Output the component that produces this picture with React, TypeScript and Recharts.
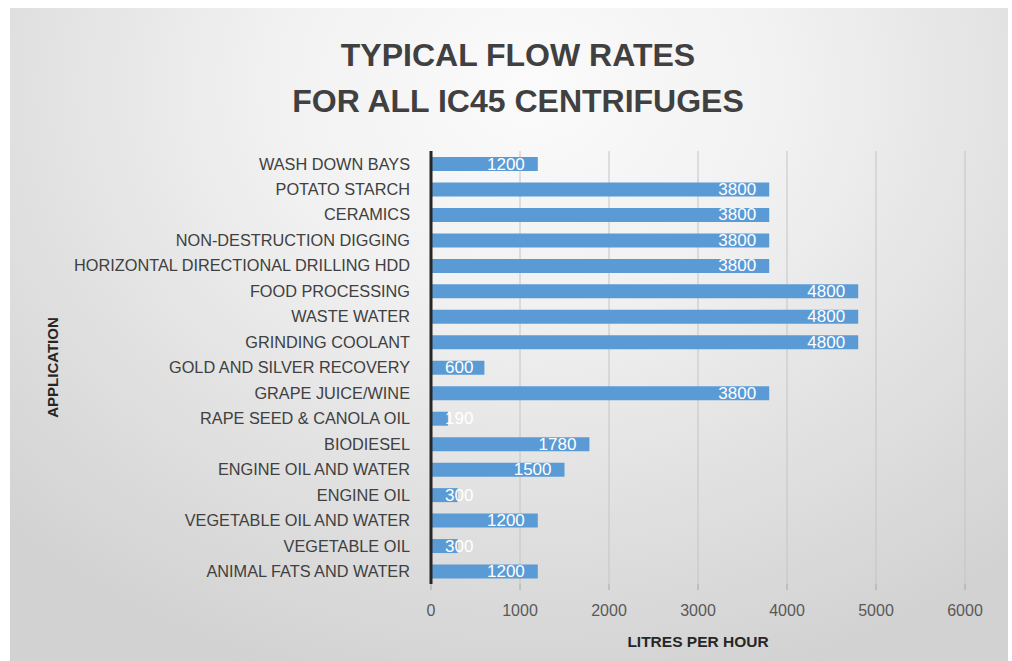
import React from "react";
import { BarChart, Bar, XAxis, YAxis, CartesianGrid, LabelList, Label } from "recharts";

const categories = [
  "WASH DOWN BAYS",
  "POTATO STARCH",
  "CERAMICS",
  "NON-DESTRUCTION DIGGING",
  "HORIZONTAL DIRECTIONAL DRILLING HDD",
  "FOOD PROCESSING",
  "WASTE WATER",
  "GRINDING COOLANT",
  "GOLD AND SILVER RECOVERY",
  "GRAPE JUICE/WINE",
  "RAPE SEED & CANOLA OIL",
  "BIODIESEL",
  "ENGINE OIL AND WATER",
  "ENGINE OIL",
  "VEGETABLE OIL AND WATER",
  "VEGETABLE OIL",
  "ANIMAL FATS AND WATER",
];
const flowRates = [1200, 3800, 3800, 3800, 3800, 4800, 4800, 4800, 600, 3800, 190, 1780, 1500, 300, 1200, 300, 1200];
const xTicks = [0, 1000, 2000, 3000, 4000, 5000, 6000];
const titleLines = ["TYPICAL FLOW RATES", "FOR ALL IC45 CENTRIFUGES"];

const data = categories.map((c, i) => ({ name: c, value: flowRates[i] }));

const FONT = "'Liberation Sans', Arial, sans-serif";

const BarValueLabel = (props: any) => {
  const { x, y, width, height, value } = props;
  const small = width < 60;
  const tx = small ? x + 14 : x + width - 13;
  return (
    <text
      x={tx}
      y={y + height / 2}
      fill="#ffffff"
      fontSize={17}
      fontFamily={FONT}
      textAnchor={small ? "start" : "end"}
      dominantBaseline="central"
    >
      {value}
    </text>
  );
};

export default function App() {
  return (
    <div style={{ position: "absolute", left: 0, top: 0, width: 1012, height: 661, background: "#ffffff", overflow: "hidden" }}>
      <div
        style={{
          position: "absolute",
          left: 10,
          top: 8,
          width: 998,
          height: 653,
          background:
            "radial-gradient(ellipse 75% 95% at 52% 12%, #fbfbfb 0%, #f1f1f1 35%, #e2e2e2 65%, #d2d2d2 100%)",
        }}
      />
      <div
        style={{
          position: "absolute",
          left: 0,
          top: 32,
          width: 1036,
          textAlign: "center",
          fontFamily: FONT,
          fontWeight: "bold",
          fontSize: 32,
          lineHeight: "46px",
          color: "#404040",
        }}
      >
        {titleLines.map((t) => (
          <div key={t}>{t}</div>
        ))}
      </div>
      <div style={{ position: "absolute", left: 0, top: 0 }}>
        <BarChart
          width={1012}
          height={661}
          data={data}
          layout="vertical"
          margin={{ top: 151, right: 47, bottom: 0, left: 0 }}
          barSize={14}
        >
          <CartesianGrid horizontal={false} vertical={true} stroke="#c4c4c4" strokeWidth={1} />
          <XAxis
            type="number"
            domain={[0, 6000]}
            ticks={xTicks}
            height={77}
            axisLine={false}
            tickLine={{ stroke: "#a6a6a6" }}
            tickSize={6}
            tickMargin={15}
            tick={{ fill: "#595959", fontSize: 16, fontFamily: FONT }}
          >
            <Label
              value="LITRES PER HOUR"
              position="insideBottom"
              offset={14}
              style={{ fill: "#262626", fontSize: 15.5, fontWeight: "bold", fontFamily: FONT }}
            />
          </XAxis>
          <YAxis
            type="category"
            dataKey="name"
            width={431}
            axisLine={{ stroke: "#262626", strokeWidth: 3 }}
            tickLine={false}
            tickSize={6}
            tickMargin={15}
            interval={0}
            tick={{ fill: "#404040", fontSize: 16.3, fontFamily: FONT }}
          >
            <Label
              content={(p: any) => {
                const vb = p.viewBox || { x: 0, y: 0, height: 0 };
                const cx = 52;
                const cy = vb.y + vb.height / 2;
                return (
                  <text
                    x={cx}
                    y={cy}
                    transform={`rotate(-90 ${cx} ${cy})`}
                    textAnchor="middle"
                    dominantBaseline="central"
                    fill="#262626"
                    fontSize={15}
                    fontWeight="bold"
                    fontFamily={FONT}
                  >
                    APPLICATION
                  </text>
                );
              }}
            />
          </YAxis>
          <Bar dataKey="value" fill="#5b9bd5" isAnimationActive={false}>
            <LabelList dataKey="value" content={BarValueLabel} />
          </Bar>
        </BarChart>
      </div>
    </div>
  );
}
